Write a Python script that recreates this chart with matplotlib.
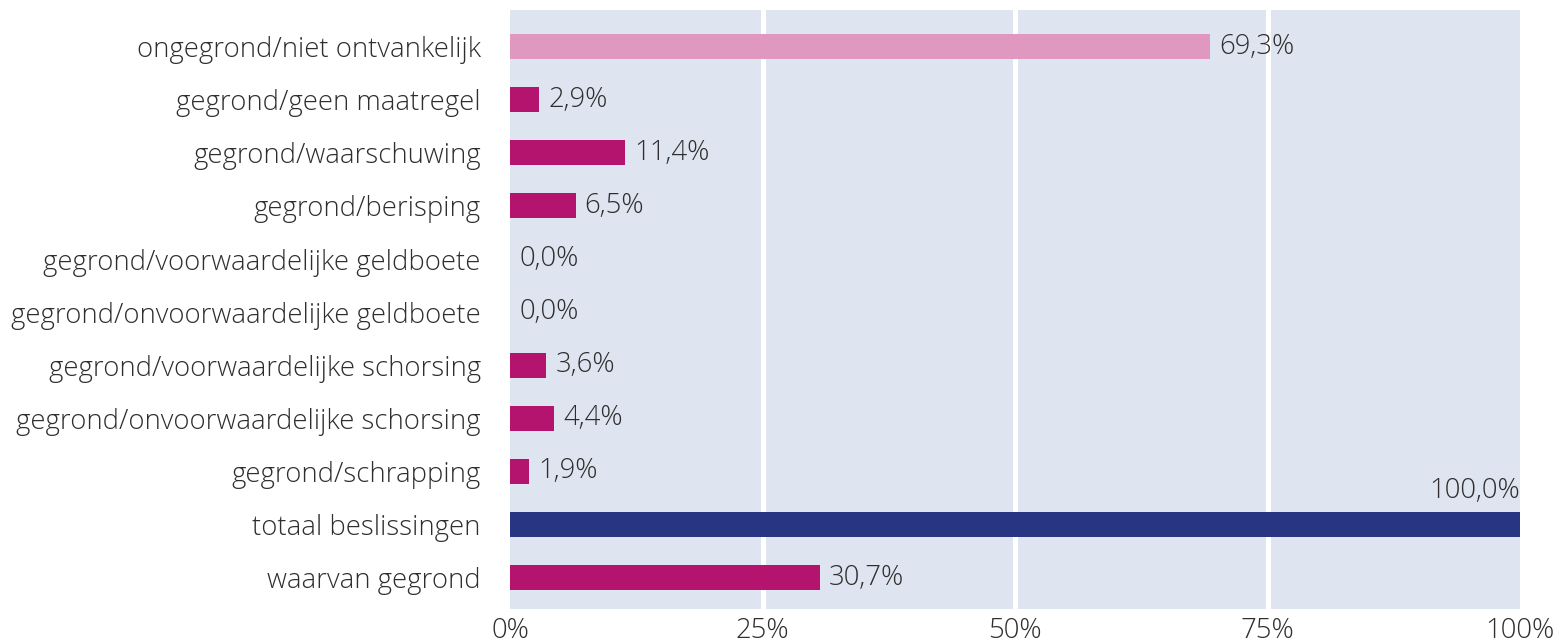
import matplotlib.pyplot as plt
import matplotlib
from matplotlib.ticker import FuncFormatter

matplotlib.rcParams['font.family'] = ['Open Sans', 'DejaVu Sans']

categories = ['ongegrond/niet ontvankelijk', 'gegrond/geen maatregel', 'gegrond/waarschuwing',
              'gegrond/berisping', 'gegrond/voorwaardelijke geldboete',
              'gegrond/onvoorwaardelijke geldboete', 'gegrond/voorwaardelijke schorsing',
              'gegrond/onvoorwaardelijke schorsing', 'gegrond/schrapping',
              'totaal beslissingen', 'waarvan gegrond']
values = [69.3, 2.9, 11.4, 6.5, 0.0, 0.0, 3.6, 4.4, 1.9, 100.0, 30.7]
colors = ['#E098C1'] + ['#B5146E'] * 8 + ['#283583', '#B5146E']

fs = 19.8
txtcol = '#2e2e2e'

fig = plt.figure(figsize=(15.55, 6.44), dpi=100)
ax = fig.add_axes([510 / 1555, 35 / 644, 1010 / 1555, 599 / 644])
ax.set_facecolor('#DFE5F0')

y = list(range(len(categories)))
ax.barh(y, values, height=0.47, color=colors, zorder=3)

for yi, v in zip(y, values):
    txt = ('%.1f%%' % v).replace('.', ',')
    if v >= 100:
        ax.text(v, yi - 0.36, txt, ha='right', va='bottom', fontsize=fs,
                color=txtcol, fontweight='light', zorder=4)
    else:
        ax.text(v + 0.9, yi, txt, ha='left', va='center', fontsize=fs,
                color=txtcol, fontweight='light', zorder=4)

for gx in [25, 50, 75]:
    ax.axvline(gx, color='white', lw=3.6, zorder=1)

ax.set_xlim(0, 100)
ax.set_ylim(10.59, -0.69)
ax.set_yticks(y)
ax.set_yticklabels(categories, fontsize=fs, color=txtcol, fontweight='light')
ax.set_xticks([0, 25, 50, 75, 100])
ax.xaxis.set_major_formatter(FuncFormatter(lambda v, p: '%d%%' % v))
for lab in ax.get_xticklabels():
    lab.set_fontweight('light')
ax.tick_params(axis='x', labelsize=fs, colors=txtcol, length=0, pad=6)
ax.tick_params(axis='y', length=0, pad=21)
for s in ax.spines.values():
    s.set_visible(False)

plt.savefig('out.png', dpi=100)
